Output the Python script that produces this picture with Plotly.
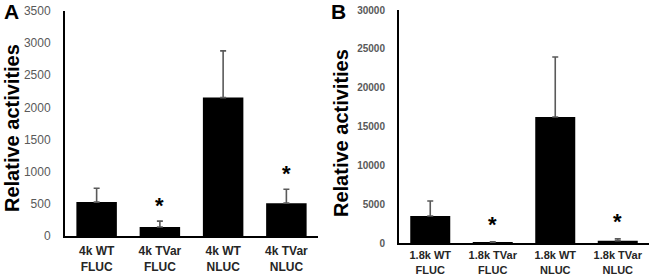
import plotly.graph_objects as go

cats_a = ["4k WT<br>FLUC", "4k TVar<br>FLUC", "4k WT<br>NLUC", "4k TVar<br>NLUC"]
vals_a = [527, 139, 2153, 511]
errs_a = [216, 93, 727, 217]
sig_a = [False, True, False, True]

cats_b = ["1.8k WT<br>FLUC", "1.8k TVar<br>FLUC", "1.8k WT<br>NLUC", "1.8k TVar<br>NLUC"]
vals_b = [3476, 100, 16223, 300]
errs_b = [1930, 60, 7725, 250]
sig_b = [False, True, False, True]

ticks_a = list(range(0, 3501, 500))
ticks_b = list(range(0, 30001, 5000))

W, H = 650, 277
FONT = "Liberation Sans, Arial, sans-serif"

fig = go.Figure()
fig.add_trace(go.Bar(
    x=cats_a, y=vals_a, xaxis="x", yaxis="y",
    marker=dict(color="black", line=dict(width=0)),
    error_y=dict(type="data", array=errs_a, arrayminus=[0] * 4, symmetric=False,
                 color="#5a5a5a", thickness=1.6, width=3),
    showlegend=False,
))
fig.add_trace(go.Bar(
    x=cats_b, y=vals_b, xaxis="x2", yaxis="y2",
    marker=dict(color="black", line=dict(width=0)),
    error_y=dict(type="data", array=errs_b, arrayminus=[0] * 4, symmetric=False,
                 color="#5a5a5a", thickness=1.6, width=3),
    showlegend=False,
))

annotations = []
for c, v, e, s in zip(cats_a, vals_a, errs_a, sig_a):
    if s:
        annotations.append(dict(x=c, y=v + e, xref="x", yref="y", text="<b>*</b>",
                                showarrow=False, yshift=16,
                                font=dict(family=FONT, size=22, color="black")))
for c, v, e, s in zip(cats_b, vals_b, errs_b, sig_b):
    if s:
        annotations.append(dict(x=c, y=v + e, xref="x2", yref="y2", text="<b>*</b>",
                                showarrow=False, yshift=17,
                                font=dict(family=FONT, size=22, color="black")))

annotations += [
    dict(x=12 / W, y=1 - 128 / H, xref="paper", yref="paper", text="<b>Relative activities</b>",
         textangle=-90, showarrow=False, xanchor="center", yanchor="middle",
         font=dict(family=FONT, size=20, color="black")),
    dict(x=341 / W, y=1 - 133 / H, xref="paper", yref="paper", text="<b>Relative activities</b>",
         textangle=-90, showarrow=False, xanchor="center", yanchor="middle",
         font=dict(family=FONT, size=20, color="black")),
    dict(x=11 / W, y=1 - 12 / H, xref="paper", yref="paper", text="<b>A</b>",
         showarrow=False, xanchor="center", yanchor="middle",
         font=dict(family=FONT, size=21, color="black")),
    dict(x=338 / W, y=1 - 12 / H, xref="paper", yref="paper", text="<b>B</b>",
         showarrow=False, xanchor="center", yanchor="middle",
         font=dict(family=FONT, size=21, color="black")),
]

common_x = dict(type="category", range=[-0.5, 3.5], showline=True, linecolor="black",
                linewidth=2, ticks="", showgrid=False, zeroline=False, automargin=False,
                fixedrange=True)
common_y = dict(showline=True, linecolor="black", linewidth=2, ticks="", showgrid=False,
                zeroline=False, automargin=False, fixedrange=True)

fig.update_layout(
    width=W, height=H,
    margin=dict(l=0, r=0, t=0, b=0, pad=0),
    paper_bgcolor="white", plot_bgcolor="white",
    bargap=0.36,
    xaxis=dict(**common_x, domain=[65 / W, 318 / W], anchor="y",
               tickvals=cats_a, ticktext=[f"<b>{c}</b>" for c in cats_a],
               ticklabelstandoff=3,
               tickfont=dict(family=FONT, size=12, color="#262626")),
    yaxis=dict(**common_y, domain=[(H - 236) / H, (H - 11) / H], anchor="x",
               range=[0, 3500], tickvals=ticks_a, ticktext=[str(v) for v in ticks_a],
               ticklabelstandoff=10,
               tickfont=dict(family=FONT, size=12, color="#595959")),
    xaxis2=dict(**common_x, domain=[399 / W, 649 / W], anchor="y2",
                tickvals=cats_b, ticktext=[f"<b>{c}</b>" for c in cats_b],
                ticklabelstandoff=1,
                tickfont=dict(family=FONT, size=11, color="#262626")),
    yaxis2=dict(**common_y, domain=[(H - 243) / H, (H - 10) / H], anchor="x2",
                range=[0, 30000], tickvals=ticks_b, ticktext=[f"<b>{v}</b>" for v in ticks_b],
                ticklabelstandoff=10,
                tickfont=dict(family=FONT, size=10, color="#595959")),
    annotations=annotations,
)

fig.write_html("out.html", config={"displayModeBar": False},
               post_script="document.body.style.margin='0';document.body.style.overflow='hidden';")
